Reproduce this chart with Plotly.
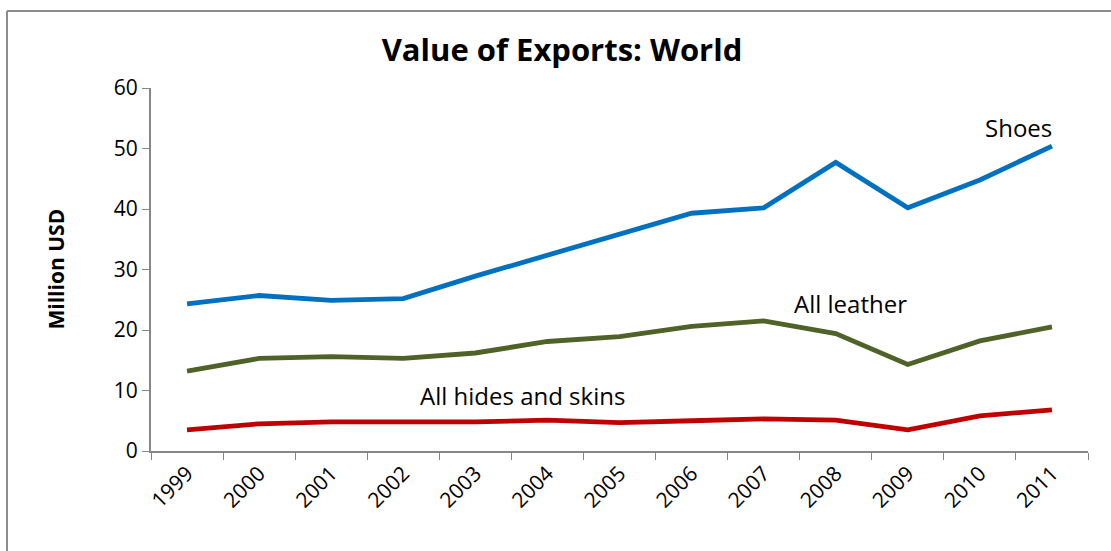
import plotly.graph_objects as go

years = ["1999", "2000", "2001", "2002", "2003", "2004", "2005", "2006", "2007", "2008", "2009", "2010", "2011"]
shoes = [24.3, 25.7, 24.9, 25.2, 28.9, 32.4, 35.7, 39.3, 40.2, 47.7, 40.2, 44.8, 50.4]
leather = [13.2, 15.3, 15.6, 15.3, 16.2, 18.1, 18.9, 20.6, 21.5, 19.4, 14.3, 18.2, 20.5]
hides = [3.5, 4.5, 4.8, 4.8, 4.8, 5.1, 4.7, 5.0, 5.3, 5.1, 3.5, 5.8, 6.8]

FONT = "Open Sans"
fig = go.Figure()
fig.add_trace(go.Scatter(x=years, y=shoes, mode="lines", line=dict(color="#0070C0", width=4.8), name="Shoes"))
fig.add_trace(go.Scatter(x=years, y=leather, mode="lines", line=dict(color="#4F6228", width=4.8), name="All leather"))
fig.add_trace(go.Scatter(x=years, y=hides, mode="lines", line=dict(color="#C00000", width=4.8), name="All hides and skins"))

BX0 = (7 - 151) / 937
BY1 = (451 - 11) / 363
fig.update_layout(
    width=1111, height=551,
    margin=dict(l=151, r=23, t=88, b=100),
    paper_bgcolor="white", plot_bgcolor="white",
    showlegend=False,
    font=dict(family=FONT, color="black"),
    title=dict(text="<b>Value of Exports: World</b>", x=562 / 1111, xanchor="center", y=1 - 50 / 551,
               yanchor="middle", font=dict(family=FONT, size=31, color="black")),
    xaxis=dict(type="category", categoryorder="array", categoryarray=years, range=[-0.5, 12.5],
               tickson="boundaries", ticks="outside", ticklen=7, tickcolor="#868686",
               showline=True, linecolor="#868686", linewidth=2, showgrid=False, tickangle=-45,
               tickfont=dict(family=FONT, size=21, color="black")),
    yaxis=dict(range=[0, 60], dtick=10, ticks="outside", ticklen=7, tickcolor="#868686",
               showline=True, linecolor="#868686", linewidth=2, showgrid=False, zeroline=False,
               tickfont=dict(family=FONT, size=21, color="black")),
    shapes=[
        dict(type="line", xref="paper", yref="paper", x0=BX0, x1=1.1, y0=BY1, y1=BY1,
             line=dict(color="#8c8c8c", width=2), layer="below"),
        dict(type="line", xref="paper", yref="paper", x0=BX0, x1=BX0, y0=-0.4, y1=BY1,
             line=dict(color="#8c8c8c", width=2), layer="below"),
    ],
    annotations=[
        dict(text="<b>Million USD</b>", xref="paper", yref="paper", x=(55 - 151) / 937, y=0.5,
             textangle=-90, showarrow=False, xanchor="center", yanchor="middle",
             font=dict(family=FONT, size=21, color="black")),
        dict(text="Shoes", x=11.53, y=53.5, xref="x", yref="y", xanchor="center", yanchor="middle",
             showarrow=False, font=dict(family=FONT, size=24, color="black")),
        dict(text="All leather", x=9.21, y=24.4, xref="x", yref="y", xanchor="center", yanchor="middle",
             showarrow=False, font=dict(family=FONT, size=24, color="black")),
        dict(text="All hides and skins", x=4.65, y=9.2, xref="x", yref="y", xanchor="center", yanchor="middle",
             showarrow=False, font=dict(family=FONT, size=24, color="black")),
    ],
)

fig.write_html("out.html", config={"displayModeBar": False},
               post_script="document.body.style.margin='0';document.body.style.overflow='hidden';")
